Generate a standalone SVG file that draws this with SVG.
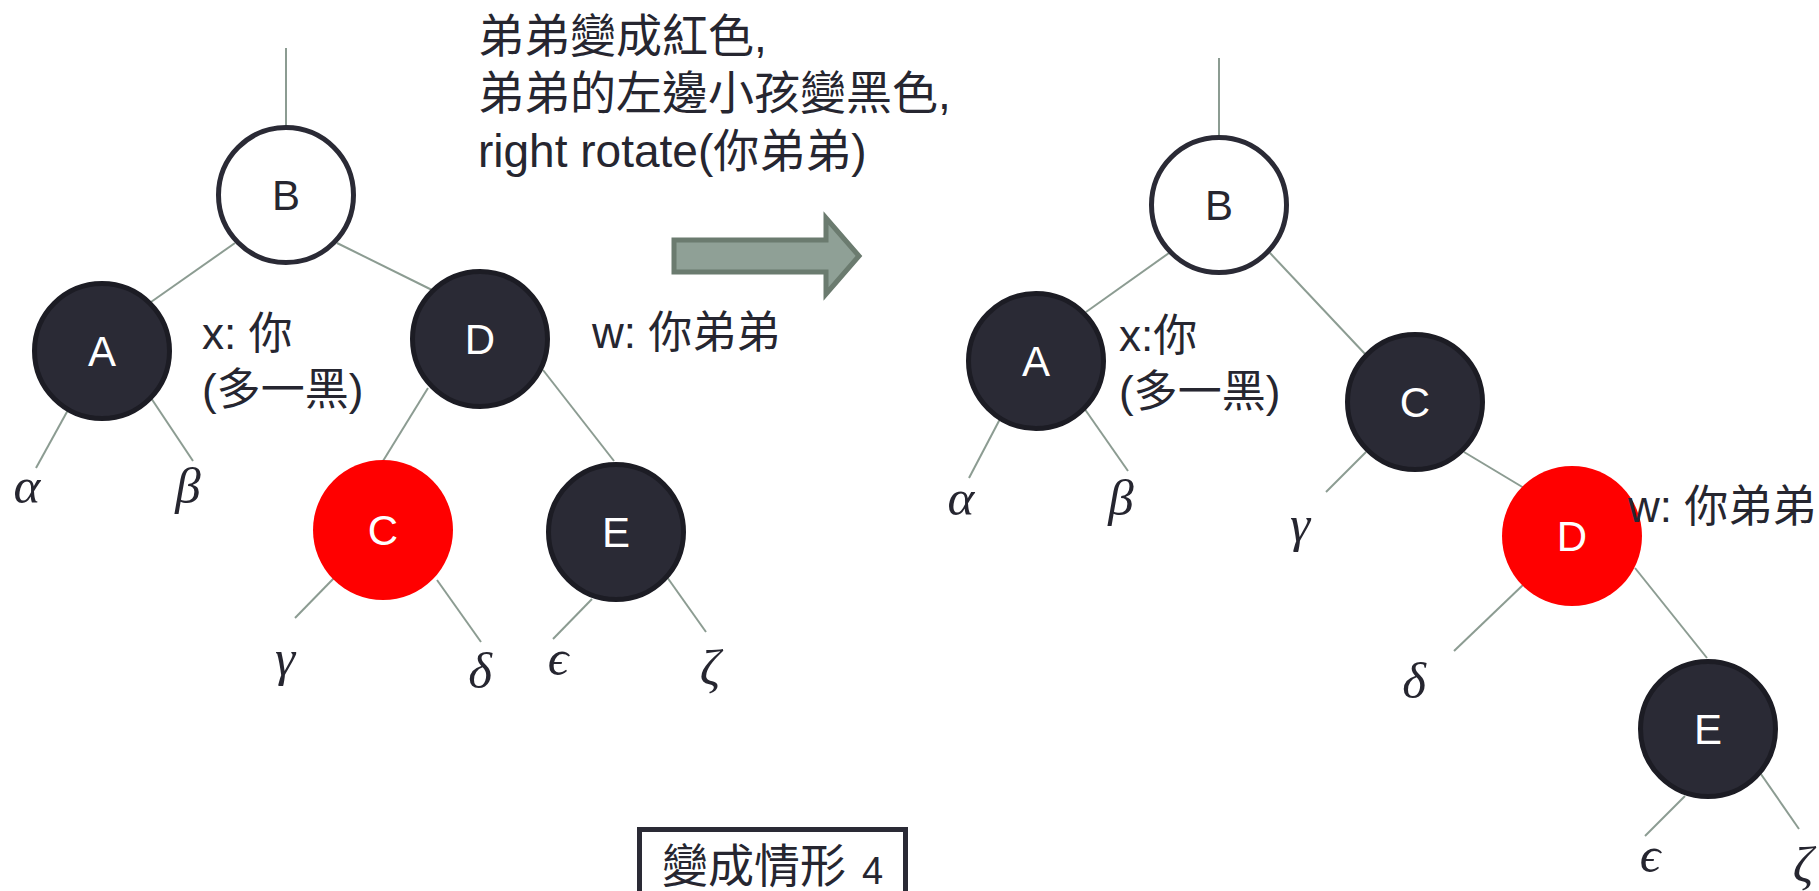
<svg xmlns="http://www.w3.org/2000/svg" width="1819" height="891" viewBox="0 0 1819 891">
<style>
.edge{stroke:#8c9c92;stroke-width:2;fill:none}
.blk{fill:#2a2a35;stroke:#1c1c24;stroke-width:5}
.wht{fill:#ffffff;stroke:#2a2a35;stroke-width:5}
.red{fill:#ff0000}
.lt{font-family:"Liberation Sans","Noto Sans CJK TC",sans-serif;font-size:42px;text-anchor:middle}
.lw{fill:#ffffff}
.ld{fill:#262630}
.tx{font-family:"Liberation Sans","Noto Sans CJK TC",sans-serif;font-size:44px;fill:#262630}
.gr{font-family:"Liberation Serif",serif;font-style:italic;font-size:51px;fill:#262630;text-anchor:middle}
</style>
<rect width="1819" height="891" fill="#ffffff"/>
<g id="connectors">
<line class="edge" x1="286" y1="48" x2="286" y2="128"/>
<line class="edge" x1="235" y1="243" x2="151" y2="302"/>
<line class="edge" x1="337" y1="243" x2="432" y2="290"/>
<line class="edge" x1="68" y1="410" x2="36" y2="468"/>
<line class="edge" x1="151" y1="398" x2="193" y2="461"/>
<line class="edge" x1="428" y1="388" x2="383" y2="461"/>
<line class="edge" x1="543" y1="370" x2="614" y2="461"/>
<line class="edge" x1="335" y1="577" x2="295" y2="618"/>
<line class="edge" x1="437" y1="580" x2="481" y2="642"/>
<line class="edge" x1="592" y1="599" x2="553" y2="639"/>
<line class="edge" x1="662" y1="570" x2="706" y2="632"/>
<line class="edge" x1="1219" y1="58" x2="1219" y2="138"/>
<line class="edge" x1="1169" y1="253" x2="1086" y2="312"/>
<line class="edge" x1="1270" y1="253" x2="1366" y2="355"/>
<line class="edge" x1="1000" y1="419" x2="969" y2="478"/>
<line class="edge" x1="1084" y1="408" x2="1128" y2="471"/>
<line class="edge" x1="1366" y1="452" x2="1326" y2="492"/>
<line class="edge" x1="1464" y1="452" x2="1524" y2="488"/>
<line class="edge" x1="1524" y1="584" x2="1454" y2="651"/>
<line class="edge" x1="1635" y1="568" x2="1707" y2="658"/>
<line class="edge" x1="1685" y1="796" x2="1645" y2="836"/>
<line class="edge" x1="1756" y1="767" x2="1799" y2="829"/>
</g>
<g id="L-B"><circle class="wht" cx="286" cy="195" r="67.5"/><text class="lt ld" x="286" y="210">B</text></g>
<g id="L-A"><circle class="blk" cx="102" cy="351" r="67.5"/><text class="lt lw" x="102" y="366">A</text></g>
<g id="L-D"><circle class="blk" cx="480" cy="339" r="67.5"/><text class="lt lw" x="480" y="354">D</text></g>
<g id="L-C"><circle class="red" cx="383" cy="530" r="70"/><text class="lt lw" x="383" y="545">C</text></g>
<g id="L-E"><circle class="blk" cx="616" cy="532" r="67.5"/><text class="lt lw" x="616" y="547">E</text></g>
<g id="R-B"><circle class="wht" cx="1219" cy="205" r="67.5"/><text class="lt ld" x="1219" y="220">B</text></g>
<g id="R-A"><circle class="blk" cx="1036" cy="361" r="67.5"/><text class="lt lw" x="1036" y="376">A</text></g>
<g id="R-C"><circle class="blk" cx="1415" cy="402" r="67.5"/><text class="lt lw" x="1415" y="417">C</text></g>
<g id="R-D"><circle class="red" cx="1572" cy="536" r="70"/><text class="lt lw" x="1572" y="551">D</text></g>
<g id="R-E"><circle class="blk" cx="1708" cy="729" r="67.5"/><text class="lt lw" x="1708" y="744">E</text></g>
<g id="greek">
<text class="gr" x="27" y="503">α</text>
<text class="gr" x="188" y="503">β</text>
<text class="gr" x="285" y="675">γ</text>
<text class="gr" x="480" y="688">δ</text>
<text class="gr" x="558" y="675">ϵ</text>
<text class="gr" x="710" y="685">ζ</text>
<text class="gr" x="961" y="515">α</text>
<text class="gr" x="1121" y="515">β</text>
<text class="gr" x="1300" y="541">γ</text>
<text class="gr" x="1414" y="698">δ</text>
<text class="gr" x="1650" y="872">ϵ</text>
<text class="gr" x="1803" y="882">ζ</text>
</g>
<g id="labels">
<text class="tx" x="202" y="349">x: 你</text>
<text class="tx" x="202" y="405">(多一黑)</text>
<text class="tx" x="592" y="348">w: 你弟弟</text>
<text class="tx" x="1119" y="351">x:你</text>
<text class="tx" x="1119" y="407">(多一黑)</text>
<text class="tx" x="1628" y="522">w: 你弟弟</text>
</g>
<g id="caption" class="tx" style="font-size:46px">
<text x="478" y="52">弟弟變成紅色,</text>
<text x="478" y="109">弟弟的左邊小孩變黑色,</text>
<text x="478" y="167">right rotate(你弟弟)</text>
</g>
<g id="arrow">
<polygon points="674,240 826,240 826,218 859,256 826,294 826,272 674,272" fill="#8fa096" stroke="#6b7b6f" stroke-width="5" stroke-linejoin="miter"/>
</g>
<g id="case-box">
<rect x="639.5" y="829.5" width="266" height="90" fill="#ffffff" stroke="#2a2a35" stroke-width="5"/>
<text class="tx" x="662" y="882" style="font-size:46px">變成情形<tspan x="862" y="884" style="font-size:38px">4</tspan></text>
</g>
</svg>
